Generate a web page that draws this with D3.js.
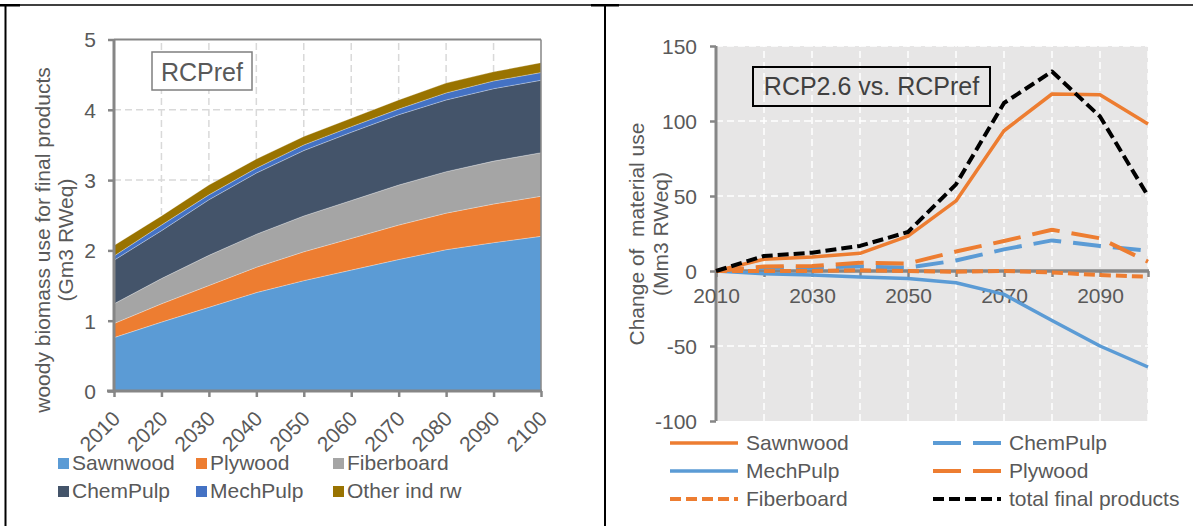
<!DOCTYPE html>
<html><head><meta charset="utf-8">
<script src="https://cdn.jsdelivr.net/npm/d3@7"></script>
<style>
html,body{margin:0;padding:0;background:#fff;}
svg{display:block;font-family:"Liberation Sans",Arial,sans-serif;}
</style></head>
<body>
<svg id="c" width="1193" height="526"></svg>
<script>
// ---------- data ----------
const years = [2010,2020,2030,2040,2050,2060,2070,2080,2090,2100];
// left chart (Gm3 RWeq), RCPref, stacked
const sawnwood   = [0.76,0.98,1.19,1.40,1.57,1.72,1.87,2.01,2.11,2.20];
const plywood    = [0.20,0.26,0.31,0.36,0.41,0.45,0.49,0.52,0.55,0.57];
const fiberboard = [0.28,0.36,0.43,0.47,0.51,0.54,0.57,0.59,0.61,0.62];
const chemPulp   = [0.62,0.68,0.79,0.87,0.93,0.97,1.00,1.02,1.03,1.03];
const mechPulp   = [0.06,0.08,0.07,0.07,0.08,0.08,0.08,0.10,0.11,0.11];
const otherIndRw = [0.15,0.13,0.14,0.13,0.12,0.12,0.13,0.14,0.13,0.14];
const leftNames  = ["Sawnwood","Plywood","Fiberboard","ChemPulp","MechPulp","Other ind rw"];
const leftTicksY = [0,1,2,3,4,5];

// right chart (Mm3 RWeq), RCP2.6 vs RCPref
const dSawnwood   = [0,7.8,9.3,11.8,23.3,46.7,93.5,118,117.5,98];
const dChemPulp   = [0,2.2,2.2,3.0,2.2,7.0,14.4,20.4,16.7,13.5];
const dMechPulp   = [0,-1.8,-2.7,-4.0,-5.0,-7.8,-15.6,-33,-50,-64];
const dPlywood    = [0,3.0,3.3,5.5,5.0,13.0,20.0,27.5,21.8,6.2];
const dFiberboard = [0,0,0,0.5,0,-0.5,0,-1.0,-2.7,-3.8];
const dTotal      = [0,10,12.2,16.7,26,57.8,112,133,103,50];
const rightNames  = ["Sawnwood","ChemPulp","MechPulp","Plywood","Fiberboard","total final products"];
const rightTicksY = [-100,-50,0,50,100,150];
const rightTicksXLabel = [2010,2030,2050,2070,2090];

// ---------- setup ----------
const svg = d3.select("#c");
const txt = "#595959", axisC = "#868686";

// figure frame lines
svg.append("line").attr("x1",0).attr("x2",1193).attr("y1",5).attr("y2",5).attr("stroke","#000").attr("stroke-width",1.5);
svg.append("line").attr("x1",5.5).attr("x2",5.5).attr("y1",5).attr("y2",526).attr("stroke","#000").attr("stroke-width",2);
svg.append("line").attr("x1",605).attr("x2",605).attr("y1",5).attr("y2",526).attr("stroke","#000").attr("stroke-width",2);
svg.append("rect").attr("x",0).attr("y",4).attr("width",20).attr("height",2.5).attr("fill","#000");
svg.append("rect").attr("x",591).attr("y",4).attr("width",28).attr("height",2.5).attr("fill","#000");

// ---------- LEFT CHART ----------
const L = {x0:114, x1:541, y0:391, y1:39.5};
const xL = d3.scaleLinear().domain([2010,2100]).range([L.x0,L.x1]);
const yL = d3.scaleLinear().domain([0,5]).range([L.y0,L.y1]);
const gL = svg.append("g");

// gridlines
gL.append("g").selectAll("line").data(years.slice(1,-1)).join("line")
  .attr("x1",d=>xL(d)).attr("x2",d=>xL(d)).attr("y1",L.y0).attr("y2",L.y1)
  .attr("stroke","#d9d9d9").attr("stroke-width",1.5).attr("stroke-dasharray","7,4");
gL.append("g").selectAll("line").data(leftTicksY.slice(1,-1)).join("line")
  .attr("x1",L.x0).attr("x2",L.x1).attr("y1",d=>yL(d)).attr("y2",d=>yL(d))
  .attr("stroke","#d9d9d9").attr("stroke-width",1.5).attr("stroke-dasharray","7,4");

// stacked areas
const leftSeries = [sawnwood,plywood,fiberboard,chemPulp,mechPulp,otherIndRw];
const leftColors = ["#5B9BD5","#ED7D31","#A5A5A5","#44546A","#4472C4","#997300"];
const table = years.map((y,i)=>{const o={year:y}; leftNames.forEach((n,k)=>o[n]=leftSeries[k][i]); return o;});
const stack = d3.stack().keys(leftNames)(table);
const area = d3.area().x(d=>xL(d.data.year)).y0(d=>yL(d[0])).y1(d=>yL(d[1]));
gL.append("g").selectAll("path").data(stack).join("path")
  .attr("d",area).attr("fill",(d,i)=>leftColors[i])
  .attr("stroke","rgba(255,255,255,0.35)").attr("stroke-width",0.8);

// plot border top/right
gL.append("line").attr("x1",L.x0).attr("x2",L.x1).attr("y1",L.y1).attr("y2",L.y1).attr("stroke",axisC).attr("stroke-width",2);
gL.append("line").attr("x1",L.x1).attr("x2",L.x1).attr("y1",L.y1).attr("y2",L.y0).attr("stroke",axisC).attr("stroke-width",1.5);

// axes
const axLy = d3.axisLeft(yL).tickValues(leftTicksY).tickSize(6).tickFormat(d3.format("d"));
const gay = gL.append("g").attr("transform",`translate(${L.x0},0)`).call(axLy);
gay.select(".domain").attr("stroke",axisC).attr("stroke-width",3).attr("d",`M0,${L.y0+1.5}V${L.y1}`);
gay.selectAll(".tick line").attr("stroke",axisC).attr("stroke-width",2.5);
gay.selectAll(".tick text").attr("fill",txt).attr("font-size",21).attr("x",-18).attr("dy","0.35em");

const axLx = d3.axisBottom(xL).tickValues(years).tickSize(6).tickFormat(d3.format("d"));
const gax = gL.append("g").attr("transform",`translate(0,${L.y0})`).call(axLx);
gax.select(".domain").attr("stroke",axisC).attr("stroke-width",3).attr("d",`M${L.x0-7},0H${L.x1+1}`);
gax.selectAll(".tick line").attr("stroke",axisC).attr("stroke-width",2.5);
gax.selectAll(".tick text").attr("fill",txt).attr("font-size",21)
  .attr("text-anchor","end").attr("dy",0).attr("y",0)
  .attr("transform","translate(7,29) rotate(-45)");

// y title
gL.append("text").attr("transform","translate(50,240) rotate(-90)").attr("text-anchor","middle")
  .attr("fill",txt).attr("font-size",21).text("woody biomass use for final products");
gL.append("text").attr("transform","translate(73,240) rotate(-90)").attr("text-anchor","middle")
  .attr("fill",txt).attr("font-size",21).text("(Gm3 RWeq)");

// RCPref label box
gL.append("rect").attr("x",152).attr("y",52).attr("width",100).attr("height",38)
  .attr("fill","#fff").attr("stroke","#7f7f7f").attr("stroke-width",1.5);
gL.append("text").attr("x",202).attr("y",81).attr("text-anchor","middle").attr("fill",txt)
  .attr("font-size",25).text("RCPref");

// legend
const legLX = [58,196,333], legLY = [458,486];
leftNames.forEach((n,i)=>{
  const cx = legLX[i%3], cy = legLY[Math.floor(i/3)];
  gL.append("rect").attr("x",cx).attr("y",cy).attr("width",11).attr("height",11).attr("fill",leftColors[i]);
  gL.append("text").attr("x",cx+14).attr("y",cy+12).attr("fill",txt).attr("font-size",21).text(n);
});

// ---------- RIGHT CHART ----------
const R = {x0:716, x1:1148, y0:421, y1:46};
const xR = d3.scaleLinear().domain([2010,2100]).range([R.x0,R.x1]);
const yR = d3.scaleLinear().domain([-100,150]).range([R.y0,R.y1]);
const gR = svg.append("g");
gR.append("rect").attr("x",R.x0).attr("y",R.y1).attr("width",R.x1-R.x0).attr("height",R.y0-R.y1).attr("fill","#E7E6E6");
// gridlines white dashed
gR.append("g").selectAll("line").data(years.slice(1)).join("line")
  .attr("x1",d=>xR(d)).attr("x2",d=>xR(d)).attr("y1",R.y0).attr("y2",R.y1)
  .attr("stroke","#fff").attr("stroke-width",1.5).attr("stroke-dasharray","7,4");
gR.append("g").selectAll("line").data(rightTicksY.filter(d=>d!==0 && d!==-100)).join("line")
  .attr("x1",R.x0).attr("x2",R.x1).attr("y1",d=>yR(d)).attr("y2",d=>yR(d))
  .attr("stroke","#fff").attr("stroke-width",1.5).attr("stroke-dasharray","7,4");

// y axis
const axRy = d3.axisLeft(yR).tickValues(rightTicksY).tickSize(6).tickFormat(d3.format("d"));
const gry = gR.append("g").attr("transform",`translate(${R.x0},0)`).call(axRy);
gry.select(".domain").attr("stroke",axisC).attr("stroke-width",3).attr("d",`M0,${R.y0}V${R.y1}`);
gry.selectAll(".tick line").attr("stroke",axisC).attr("stroke-width",2.5);
gry.selectAll(".tick text").attr("fill",txt).attr("font-size",21).attr("x",-19).attr("dy","0.35em")
  .text(d=>d<0? "-"+Math.abs(d) : d);

// zero line x axis
const axRx = d3.axisBottom(xR).tickValues(years).tickSize(6).tickFormat(d=>rightTicksXLabel.includes(d)?d:"");
const grx = gR.append("g").attr("transform",`translate(0,${yR(0)})`).call(axRx);
grx.select(".domain").attr("stroke",axisC).attr("stroke-width",3.5).attr("d",`M${R.x0},0H${R.x1+1}`);
grx.selectAll(".tick line").attr("stroke",axisC).attr("stroke-width",2.5);
grx.selectAll(".tick text").attr("fill",txt).attr("font-size",21).attr("y",0).attr("dy",0)
  .attr("transform","translate(0,32)");

// series lines
const rightSeries = [dSawnwood,dChemPulp,dMechPulp,dPlywood,dFiberboard,dTotal];
const rightColors = ["#ED7D31","#5B9BD5","#5B9BD5","#ED7D31","#ED7D31","#000000"];
const rightDash   = [null,"28,12",null,"28,12","11,5","11,5"];
const rightWidth  = [3.5,4,3.5,4,4,4];
const line = d3.line().x((d,i)=>xR(years[i])).y(d=>yR(d));
rightSeries.forEach((s,k)=>{
  gR.append("path").attr("d",line(s)).attr("fill","none")
    .attr("stroke",rightColors[k]).attr("stroke-width",rightWidth[k])
    .attr("stroke-dasharray",rightDash[k]).attr("stroke-linejoin","round");
});

// y title
gR.append("text").attr("transform","translate(644,234) rotate(-90)").attr("text-anchor","middle")
  .attr("fill",txt).attr("font-size",21).style("white-space","pre").text("Change of  material use");
gR.append("text").attr("transform","translate(668,234) rotate(-90)").attr("text-anchor","middle")
  .attr("fill",txt).attr("font-size",21).text("(Mm3 RWeq)");

// label box
gR.append("rect").attr("x",753).attr("y",67).attr("width",237).attr("height",39)
  .attr("fill","none").attr("stroke","#000").attr("stroke-width",2);
gR.append("text").attr("x",871.5).attr("y",95).attr("text-anchor","middle").attr("fill","#404040")
  .attr("font-size",25).text("RCP2.6 vs. RCPref");

// legend
const legRX = [670,933], legRY = [443,471,499];
rightNames.forEach((n,k)=>{
  const cx = legRX[k%2], cy = legRY[Math.floor(k/2)];
  gR.append("line").attr("x1",cx).attr("x2",cx+68).attr("y1",cy).attr("y2",cy)
    .attr("stroke",rightColors[k]).attr("stroke-width",rightWidth[k]).attr("stroke-dasharray",rightDash[k]);
  gR.append("text").attr("x",cx+76).attr("y",cy+7).attr("fill",txt).attr("font-size",21).text(n);
});
</script>
</body></html>
